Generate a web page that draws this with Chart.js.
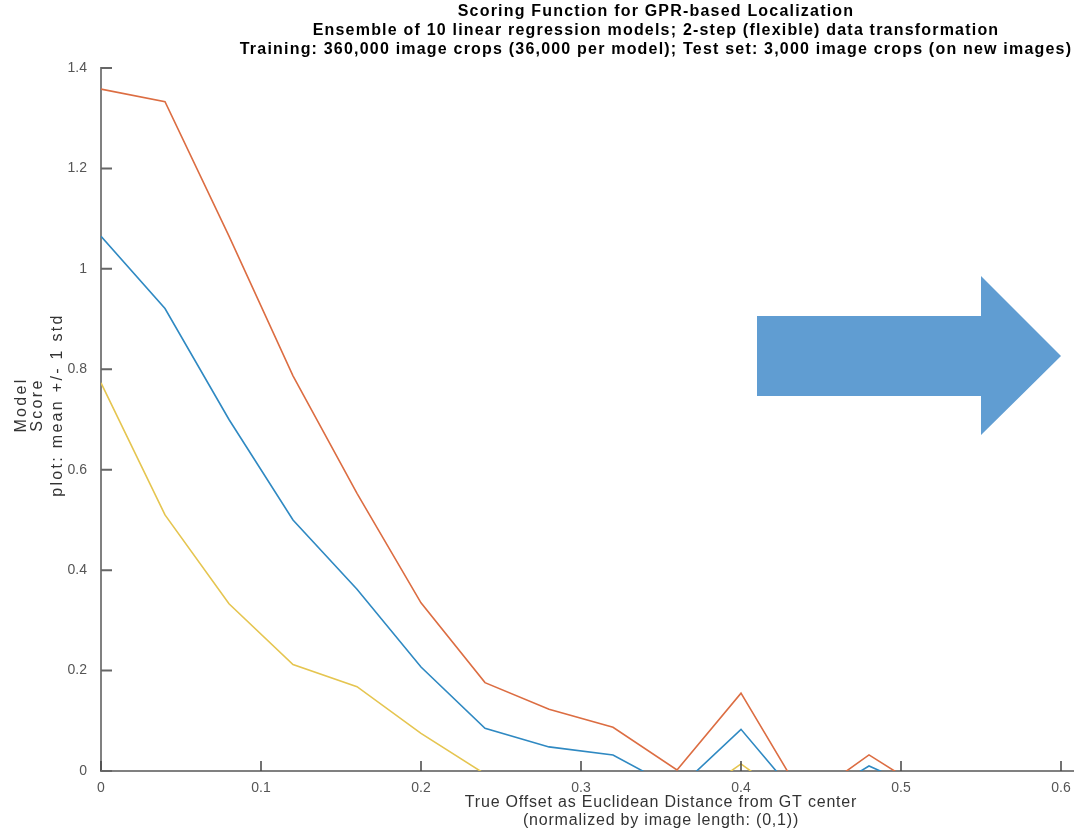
<!DOCTYPE html>
<html>
<head>
<meta charset="utf-8">
<script src="https://cdn.jsdelivr.net/npm/chart.js@4"></script>
<style>
  html, body { margin: 0; padding: 0; background: #fff; overflow: hidden; }
  #wrap { position: relative; width: 1240px; height: 832px; }
  #arrow { position: absolute; left: 0; top: 0; }
</style>
</head>
<body>
<div id="wrap">
  <canvas id="chart" width="1240" height="832"></canvas>
  <svg id="arrow" width="1240" height="832">
    <polygon points="757,316 981,316 981,276 1061,356 981,435 981,396 757,396" fill="#609dd2"/>
  </svg>
</div>
<script>
// offset of the crop from the GT center, normalized by image length
const offsets = [0, 0.04, 0.08, 0.12, 0.16, 0.2, 0.24, 0.28, 0.32, 0.36, 0.4, 0.44, 0.48, 0.52];
const meanScore = [1.065, 0.921, 0.700, 0.500, 0.362, 0.207, 0.085, 0.048, 0.032, -0.037, 0.083, -0.068, 0.010, -0.047];
const meanPlusStd = [1.358, 1.333, 1.065, 0.787, 0.553, 0.335, 0.176, 0.123, 0.087, 0.002, 0.155, -0.059, 0.032, -0.048];
const meanMinusStd = [0.773, 0.510, 0.333, 0.212, 0.168, 0.075, -0.006, -0.027, -0.023, -0.076, 0.014, -0.078, -0.012, -0.046];

const xTicks = [0, 0.1, 0.2, 0.3, 0.4, 0.5, 0.6, 0.7];
const yTicks = [0, 0.2, 0.4, 0.6, 0.8, 1, 1.2, 1.4];

const titleLines = [
  'Scoring Function for GPR-based Localization',
  'Ensemble of 10 linear regression models; 2-step (flexible) data transformation',
  'Training: 360,000 image crops (36,000 per model); Test set: 3,000 image crops (on new images)'
];
const xTitleLines = [
  'True Offset as Euclidean Distance from GT center',
  '(normalized by image length: (0,1))'
];
const yTitleLines = ['Model', 'Score', 'plot: mean +/- 1 std'];

const FONT = '"Liberation Sans", Arial, sans-serif';

function series(values, color) {
  return {
    data: offsets.map((x, i) => ({ x, y: values[i] })),
    borderColor: color,
    borderWidth: 1.6,
    pointRadius: 0,
    tension: 0,
    clip: 0
  };
}

// matlab style ticks pointing into the axes
const innerTicks = {
  id: 'innerTicks',
  afterDraw(chart) {
    const { ctx, chartArea: a, scales: { x, y } } = chart;
    ctx.save();
    ctx.strokeStyle = '#444';
    ctx.lineWidth = 1.5;
    ctx.beginPath();
    x.ticks.forEach((t, i) => {
      const px = x.getPixelForTick(i);
      ctx.moveTo(px, a.bottom);
      ctx.lineTo(px, a.bottom - 10);
    });
    ctx.stroke();
    ctx.strokeStyle = '#666';
    ctx.lineWidth = 2;
    ctx.beginPath();
    y.ticks.forEach((t, i) => {
      const py = y.getPixelForTick(i);
      ctx.moveTo(a.left, py);
      ctx.lineTo(a.left + 11, py);
    });
    ctx.stroke();
    ctx.restore();
  }
};

const labels = {
  id: 'labels',
  afterDraw(chart) {
    const { ctx, chartArea: a } = chart;
    const cx = (a.left + a.right) / 2;
    ctx.save();
    ctx.textAlign = 'center';
    ctx.textBaseline = 'middle';

    ctx.fillStyle = '#000';
    ctx.font = 'bold 16px ' + FONT;
    ctx.letterSpacing = '1.2px';
    titleLines.forEach((t, i) => ctx.fillText(t, cx - 5, 12 + i * 19));

    ctx.fillStyle = '#333';
    ctx.font = '16px ' + FONT;
    ctx.letterSpacing = '0.8px';
    xTitleLines.forEach((t, i) => ctx.fillText(t, cx, 803 + i * 17.5));

    ctx.letterSpacing = '2.3px';
    ctx.translate(0, 405);
    ctx.rotate(-Math.PI / 2);
    [22, 37.5, 58].forEach((px, i) => ctx.fillText(yTitleLines[i], 0, px));
    ctx.restore();
  }
};

const tickFont = { family: FONT, size: 14 };
const tickText = v => String(+v.toFixed(2));

new Chart(document.getElementById('chart'), {
  type: 'line',
  data: {
    datasets: [
      series(meanScore, '#2f89c2'),
      series(meanPlusStd, '#dc6d42'),
      series(meanMinusStd, '#e5c550')
    ]
  },
  options: {
    responsive: false,
    animation: false,
    events: [],
    layout: { padding: { left: 0, right: 19, top: 68, bottom: 0 } },
    plugins: { legend: { display: false }, tooltip: { enabled: false } },
    scales: {
      x: {
        type: 'linear',
        min: xTicks[0],
        max: xTicks[xTicks.length - 1],
        afterBuildTicks: s => { s.ticks = xTicks.map(v => ({ value: v })); },
        afterFit: s => { s.height = 61; },
        ticks: { color: '#555', font: tickFont, padding: 9, maxRotation: 0, callback: tickText },
        grid: { drawOnChartArea: false, drawTicks: false },
        border: { color: '#808080', width: 2 }
      },
      y: {
        min: yTicks[0],
        max: yTicks[yTicks.length - 1],
        afterBuildTicks: s => { s.ticks = yTicks.map(v => ({ value: v })); },
        afterFit: s => { s.width = 101; },
        ticks: { color: '#555', font: tickFont, padding: 14, callback: tickText },
        grid: { drawOnChartArea: false, drawTicks: false },
        border: { color: '#808080', width: 2 }
      }
    }
  },
  plugins: [innerTicks, labels]
});
</script>
</body>
</html>
